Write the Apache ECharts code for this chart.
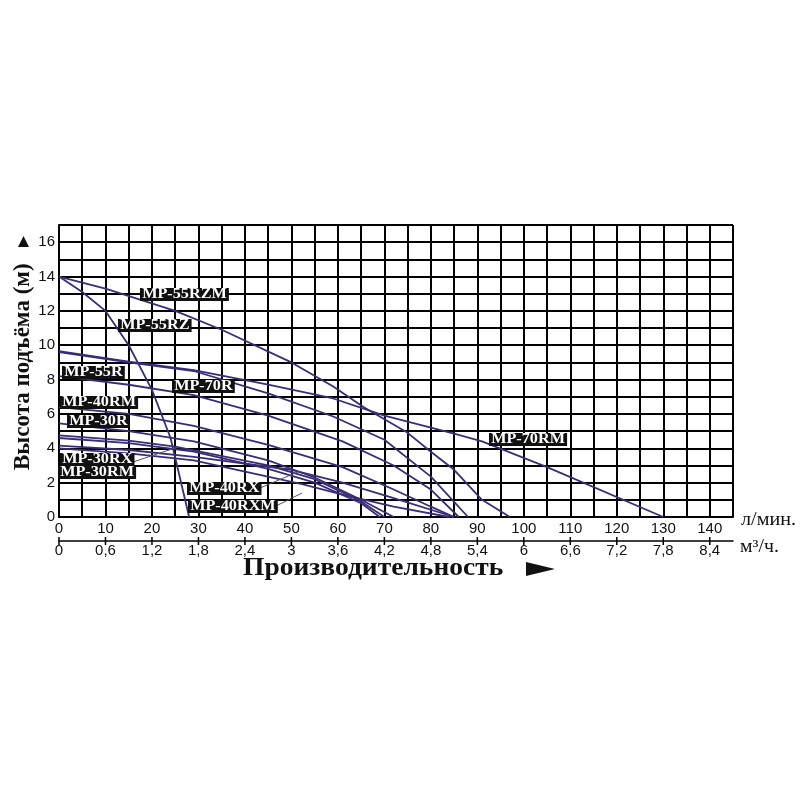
<!DOCTYPE html>
<html><head><meta charset="utf-8">
<script src="https://cdn.jsdelivr.net/npm/echarts@6/dist/echarts.min.js"></script>
<style>html,body{margin:0;padding:0;background:#fff}#c{width:800px;height:800px}</style>
</head><body><div id="c"></div>
<script>
// Flow axis (л/мин) tick labels and m3/h tick labels
var flowTicks = [0,10,20,30,40,50,60,70,80,90,100,110,120,130,140];
var m3Ticks = ['0','0,6','1,2','1,8','2,4','3','3,6','4,2','4,8','5,4','6','6,6','7,2','7,8','8,4'];
var headTicks = [0,2,4,6,8,10,12,14,16];

// Pump curves [flow л/мин, head м]
var mp55RZM = [[0,14],[10,13.3],[25,12],[35,10.9],[50,9],[59,7.6],[65.5,6.4],[75,4.9],[80,3.8],[85,2.75],[91,1.0],[97,0]];
var mp55RZ  = [[0,14],[5,13.1],[10,12],[15,10],[20,7.4],[24,4.6],[28,0]];
var mp70RM  = [[0,9.65],[15,9.05],[29,8.55],[45,7.7],[59,6.9],[70,5.9],[85,4.85],[91,4.4],[105,2.9],[130,0]];
var mp70R   = [[0,9.6],[15,9.0],[29,8.5],[45,7.2],[59,5.85],[70,4.5],[80,2.35],[88,0]];
var mp55R   = [[0,8.2],[15,7.7],[29,7.1],[45,5.9],[61,4.4],[72,3.0],[80,1.6],[86,0]];
var mp40RM  = [[0,6.4],[15,6.0],[29,5.3],[45,4.2],[61,2.9],[72,1.6],[80,0.6],[85,0]];
var mp30R   = [[0,5.45],[15,5.0],[29,4.4],[45,3.3],[55,2.3],[65,1.0],[72,0]];
var mp30RX  = [[0,4.75],[15,4.45],[25,4.1],[45,3.0],[55,2.2],[65,0.9],[70,0]];
var mp30RM  = [[0,4.6],[15,4.3],[29,3.8],[45,2.8],[55,2.0],[65,0.8],[69,0]];
var mp40RX  = [[0,4.15],[15,3.9],[29,3.5],[50,2.75],[61,2.0],[72,1.1],[85,0]];
var mp40RXM = [[0,4.0],[15,3.7],[29,3.3],[52.5,1.9],[61,1.3],[72,0.6],[84,0]];

var seriesNames = ['MP-55RZM','MP-55RZ','MP-70RM','MP-70R','MP-55R','MP-40RM','MP-30R','MP-30RX','MP-30RM','MP-40RX','MP-40RXM'];
var seriesData = [mp55RZM, mp55RZ, mp70RM, mp70R, mp55R, mp40RM, mp30R, mp30RX, mp30RM, mp40RX, mp40RXM];

var chart = echarts.init(document.getElementById('c'), null, {renderer:'canvas'});
var lineColor = '#3b2c78';
var serif = '"Liberation Serif","Times New Roman",serif';
var sans = '"Liberation Sans",Arial,sans-serif';

var series = seriesData.map(function(d,i){
  return {type:'line', name:seriesNames[i], data:d, symbol:'none', smooth:false,
    lineStyle:{color:lineColor, width:1.8}, z:3, silent:true};
});

function flowFmt(v){ var i = flowTicks.indexOf(v); return i>=0 ? String(flowTicks[i]) : ''; }
function m3Fmt(v){ var i = flowTicks.indexOf(v); return i>=0 ? m3Ticks[i] : ''; }
function headFmt(v){ var i = headTicks.indexOf(v); return i>=0 ? String(headTicks[i]) : ''; }

var option = {
  animation:false,
  backgroundColor:'#fff',
  grid:{left:59, right:67, top:225, bottom:283, containLabel:false},
  xAxis:[
    {type:'value', min:0, max:145, interval:5, position:'bottom',
     axisLine:{show:true, lineStyle:{color:'#000', width:2}},
     axisTick:{show:false},
     splitLine:{show:true, lineStyle:{color:'#000', width:2}},
     axisLabel:{formatter:flowFmt, color:'#111', fontFamily:sans, fontSize:15, margin:4, showMaxLabel:true}},
    {type:'value', min:0, max:145, interval:5, position:'bottom', offset:24,
     axisLine:{show:true, lineStyle:{color:'#000', width:1.5}},
     axisTick:{show:false},
     splitLine:{show:false},
     axisLabel:{formatter:m3Fmt, color:'#111', fontFamily:sans, fontSize:15, margin:2}}
  ],
  yAxis:{type:'value', min:0, max:17, interval:1,
     axisLine:{show:true, lineStyle:{color:'#000', width:2}},
     axisTick:{show:false},
     splitLine:{show:true, lineStyle:{color:'#000', width:2}},
     axisLabel:{formatter:headFmt, color:'#111', fontFamily:sans, fontSize:15, margin:4}},
  series:series
};
chart.setOption(option);

var labels = [
  ['MP-55RZM',140,288],['MP-55RZ',118,319],['MP-55R',62,366],['MP-70R',172,380],
  ['MP-40RM',60,396],['MP-30R',67,415],['MP-30RX',60,453],['MP-30RM',58,466],
  ['MP-40RX',187,482],['MP-40RXM',188,500],['MP-70RM',489,433]
];
var g = labels.map(function(l){ return {type:'text', x:l[1], y:l[2], z:10, scaleX:1.08,
  style:{text:l[0], fill:'#fff', font:'bold 15px '+serif, backgroundColor:'#111',
  padding:[0,2,0,2], lineHeight:13}}; });

// leader lines
g.push({type:'line', z:9, shape:{x1:130,y1:463,x2:178,y2:447}, style:{stroke:'#555', lineWidth:1}});
g.push({type:'line', z:9, shape:{x1:260,y1:488,x2:300,y2:471}, style:{stroke:'#555', lineWidth:1}});
g.push({type:'line', z:9, shape:{x1:276,y1:506,x2:302,y2:493}, style:{stroke:'#555', lineWidth:1}});

// m3 ticks at multiples of 10 (crossing the lower axis line)
var axisY = 541;
flowTicks.forEach(function(v){
  var px = chart.convertToPixel({xAxisIndex:0}, v);
  g.push({type:'line', z:5, shape:{x1:px,y1:axisY-4,x2:px,y2:axisY+4}, style:{stroke:'#000', lineWidth:1.5}});
});

// titles and units
g.push({type:'polygon', shape:{points:[[18,247],[23.5,236],[29,247]]}, style:{fill:'#111'}});
g.push({type:'text', x:243, y:556, scaleX:1.1, style:{text:'Производительность', fill:'#111', font:'bold 25px '+serif}});
g.push({type:'polygon', shape:{points:[[526,562],[555,569],[526,576]]}, style:{fill:'#111'}});
g.push({type:'text', x:741, y:511, scaleX:1.12, style:{text:'л/мин.', fill:'#111', font:'18px '+serif}});
g.push({type:'text', x:740, y:538, scaleX:1.1, style:{text:'м³/ч.', fill:'#111', font:'18px '+serif}});
g.push({type:'text', x:12, y:470, rotation:Math.PI/2, style:{text:'Высота подъёма (м)', fill:'#111', font:'bold 23px '+serif}});
chart.setOption({graphic:g});
</script></body></html>
